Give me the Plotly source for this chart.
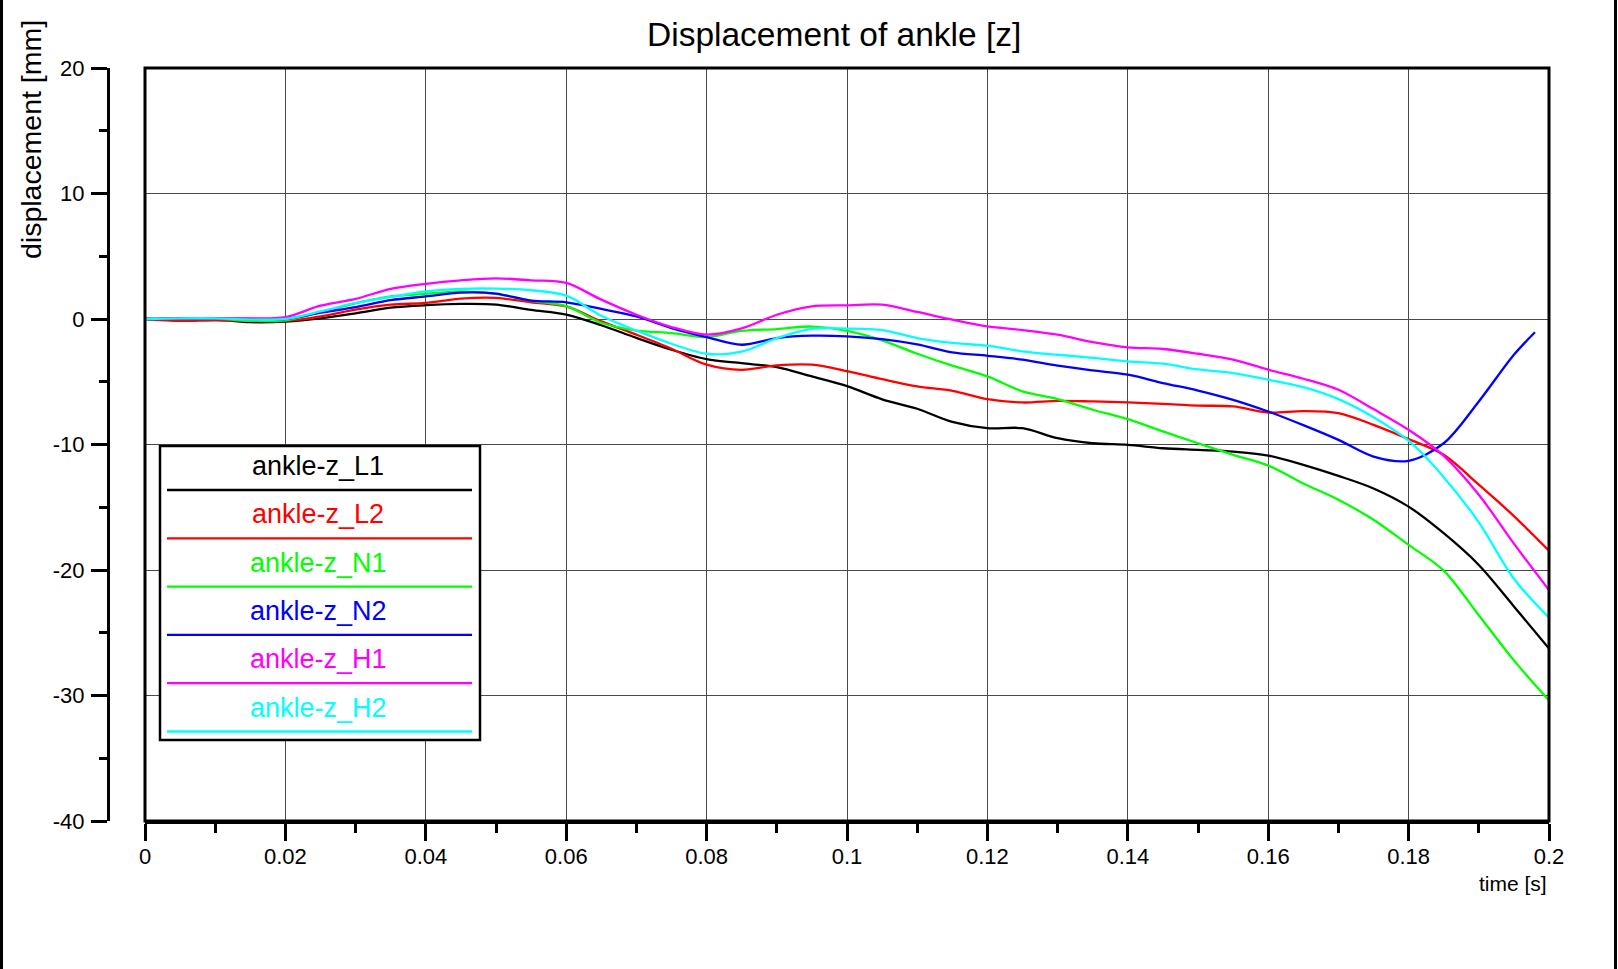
import plotly.graph_objects as go

W, H = 1618, 969
FONT = "Liberation Sans, Arial, Helvetica, sans-serif"

# ---------------- data ----------------
time_s = [0.0, 0.005, 0.01, 0.015, 0.02, 0.025, 0.03, 0.035, 0.04, 0.045,
          0.05, 0.055, 0.06, 0.065, 0.07, 0.075, 0.08, 0.085, 0.09, 0.095,
          0.1, 0.105, 0.11, 0.115, 0.12, 0.125, 0.13, 0.135, 0.14, 0.145,
          0.15, 0.155, 0.16, 0.165, 0.17, 0.175, 0.18, 0.185, 0.19, 0.195, 0.2]

time_s_N2 = [0.0, 0.005, 0.01, 0.015, 0.02, 0.025, 0.03, 0.035, 0.04, 0.045,
             0.05, 0.055, 0.06, 0.065, 0.07, 0.075, 0.08, 0.085, 0.09, 0.095,
             0.1, 0.105, 0.11, 0.115, 0.12, 0.125, 0.13, 0.135, 0.14, 0.145,
             0.15, 0.155, 0.16, 0.165, 0.17, 0.175, 0.18, 0.185, 0.19, 0.195, 0.198]

ankle_z_L1 = [0, -0.05, -0.05, -0.25, -0.2, 0.05, 0.45, 0.9, 1.1, 1.2,
              1.15, 0.72, 0.35, -0.5, -1.5, -2.45, -3.2, -3.52, -3.84, -4.58,
              -5.35, -6.4, -7.15, -8.2, -8.7, -8.7, -9.5, -9.9, -10.03, -10.3,
              -10.43, -10.56, -10.88, -11.62, -12.5, -13.5, -14.95, -17.07, -19.6, -22.9, -26.25]

ankle_z_L2 = [0, -0.15, -0.1, -0.15, -0.15, 0.2, 0.74, 1.14, 1.28, 1.62,
              1.68, 1.33, 1.0, -0.19, -1.25, -2.37, -3.64, -4.05, -3.7, -3.64,
              -4.15, -4.79, -5.37, -5.72, -6.38, -6.65, -6.52, -6.57, -6.65, -6.76,
              -6.9, -6.97, -7.45, -7.34, -7.5, -8.43, -9.57, -10.82, -13.2, -15.7, -18.46]

ankle_z_N1 = [0, 0.05, 0.05, -0.15, -0.1, 0.55, 1.25, 1.8, 2.0, 2.2,
              2.0, 1.45, 1.02, -0.3, -0.92, -1.12, -1.44, -0.95, -0.8, -0.6,
              -0.95, -1.7, -2.77, -3.72, -4.57, -5.77, -6.38, -7.23, -7.98, -8.96,
              -9.9, -10.82, -11.68, -13.1, -14.4, -16.0, -18.0, -20.05, -23.6, -27.2, -30.4]

ankle_z_N2 = [0, 0.05, 0.05, 0, 0, 0.5, 0.95, 1.5, 1.8, 2.1,
              2.02, 1.47, 1.33, 0.8, 0.21, -0.72, -1.44, -2.05, -1.52, -1.33,
              -1.38, -1.6, -2.02, -2.66, -2.93, -3.24, -3.72, -4.1, -4.44, -5.1,
              -5.7, -6.44, -7.37, -8.46, -9.63, -10.96, -11.3, -9.9, -6.57, -2.85, -1.06]

ankle_z_H1 = [0, 0.05, 0.05, 0.05, 0.15, 1.06, 1.6, 2.4, 2.8, 3.08,
              3.24, 3.08, 2.87, 1.54, 0.34, -0.64, -1.25, -0.75, 0.34, 1.01,
              1.09, 1.14, 0.56, -0.05, -0.59, -0.88, -1.25, -1.84, -2.26, -2.39,
              -2.77, -3.24, -4.04, -4.76, -5.64, -7.18, -8.83, -10.9, -14.0, -17.9, -21.6]

ankle_z_H2 = [0, 0.05, 0.05, -0.05, 0.0, 0.6, 1.28, 1.76, 2.2, 2.4,
              2.42, 2.29, 1.86, 0.26, -0.93, -1.97, -2.77, -2.6, -1.53, -0.79,
              -0.76, -0.88, -1.52, -1.91, -2.13, -2.58, -2.85, -3.09, -3.38, -3.56,
              -4.02, -4.31, -4.84, -5.43, -6.38, -7.82, -9.7, -12.6, -16.2, -20.7, -23.8]

series_names = ["ankle-z_L1", "ankle-z_L2", "ankle-z_N1", "ankle-z_N2", "ankle-z_H1", "ankle-z_H2"]
series_colors = ["#000000", "#ff0000", "#00ff00", "#0000ff", "#ff00ff", "#00ffff"]
series_x = [time_s, time_s, time_s, time_s_N2, time_s, time_s]
series_y = [ankle_z_L1, ankle_z_L2, ankle_z_N1, ankle_z_N2, ankle_z_H1, ankle_z_H2]

x_tick_vals = [0, 0.02, 0.04, 0.06, 0.08, 0.1, 0.12, 0.14, 0.16, 0.18, 0.2]
x_tick_labels = ["0", "0.02", "0.04", "0.06", "0.08", "0.1", "0.12", "0.14", "0.16", "0.18", "0.2"]
y_tick_vals = [20, 10, 0, -10, -20, -30, -40]
y_tick_labels = ["20", "10", "0", "-10", "-20", "-30", "-40"]

title_text = "Displacement of ankle [z]"
x_title = "time [s]"
y_title = "displacement [mm]"

# ---------------- geometry (pixels) ----------------
PL, PR, PT, PB = 145, 1549, 68, 821
YAX_X = 108


def px(x):
    return x / W


def py(y):
    return 1 - y / H


fig = go.Figure()
for name, color, xs, ys in zip(series_names, series_colors, series_x, series_y):
    fig.add_trace(go.Scatter(
        x=xs, y=ys, mode="lines", name=name, showlegend=False,
        line=dict(color=color, width=2.3, shape="spline", smoothing=0.9),
    ))

tick_common = dict(tickcolor="black", tickwidth=2.5)

fig.update_layout(
    width=W, height=H,
    margin=dict(l=0, r=0, t=0, b=0),
    paper_bgcolor="white", plot_bgcolor="white",
    font=dict(family=FONT, color="black"),
    showlegend=False,
    xaxis=dict(
        domain=[px(PL), px(PR)], range=[0, 0.2], anchor="y",
        tickmode="array", tickvals=x_tick_vals, ticktext=x_tick_labels,
        ticks="outside", ticklen=17, **tick_common,
        minor=dict(tickmode="linear", tick0=0, dtick=0.01, ticks="outside",
                   ticklen=9, showgrid=False, **tick_common),
        showline=True, linecolor="black", linewidth=3,
        showgrid=True, gridcolor="#4a4a4a", gridwidth=1, zeroline=False,
        tickfont=dict(size=22, color="black", family=FONT),
        ticklabelstandoff=-3, automargin=False,
    ),
    xaxis2=dict(
        overlaying="x", matches="x", anchor="y", range=[0, 0.2],
        tickmode="array", tickvals=x_tick_vals,
        ticks="inside", ticklen=16, **tick_common,
        minor=dict(tickmode="linear", tick0=0, dtick=0.01, ticks="inside",
                   ticklen=8, showgrid=False, **tick_common),
        showticklabels=False, showgrid=False, showline=False, zeroline=False,
        automargin=False,
    ),
    yaxis=dict(
        domain=[py(PB), py(PT)], range=[-40, 20], anchor="free", position=px(YAX_X),
        tickmode="array", tickvals=y_tick_vals, ticktext=y_tick_labels,
        ticks="outside", ticklen=16, **tick_common,
        minor=dict(tickmode="linear", tick0=0, dtick=5, ticks="outside",
                   ticklen=8, showgrid=False, **tick_common),
        showline=True, linecolor="black", linewidth=3,
        showgrid=True, gridcolor="#4a4a4a", gridwidth=1, zeroline=False,
        tickfont=dict(size=22, color="black", family=FONT),
        ticklabelstandoff=2, automargin=False,
    ),
    yaxis2=dict(
        overlaying="y", matches="y", anchor="free", position=px(YAX_X), range=[-40, 20],
        tickmode="array", tickvals=y_tick_vals,
        ticks="inside", ticklen=16, **tick_common,
        minor=dict(tickmode="linear", tick0=0, dtick=5, ticks="inside",
                   ticklen=8, showgrid=False, **tick_common),
        showticklabels=False, showgrid=False, showline=False, zeroline=False,
        automargin=False,
    ),
)

shapes = [
    # plot frame
    dict(type="rect", xref="x domain", yref="y domain", x0=0, x1=1, y0=0, y1=1,
         line=dict(color="black", width=3), layer="above"),
    # page side rules
    dict(type="line", xref="paper", yref="paper", x0=px(1.5), x1=px(1.5), y0=0, y1=1,
         line=dict(color="black", width=3)),
    dict(type="line", xref="paper", yref="paper", x0=px(1615.5), x1=px(1615.5), y0=0, y1=1,
         line=dict(color="black", width=3)),
    # legend box
    dict(type="rect", xref="paper", yref="paper", x0=px(160), x1=px(480), y0=py(740), y1=py(446),
         line=dict(color="black", width=2.5), fillcolor="white", layer="above"),
]

annotations = [
    dict(text=title_text, xref="paper", yref="paper", x=px(834), y=py(34),
         xanchor="center", yanchor="middle", showarrow=False,
         font=dict(size=33.5, color="black", family=FONT)),
    dict(text=x_title, xref="paper", yref="paper", x=px(1549), y=py(883),
         xanchor="right", yanchor="middle", showarrow=False,
         font=dict(size=21, color="black", family=FONT)),
    dict(text=y_title, xref="paper", yref="paper", x=px(31), y=py(140),
         xanchor="center", yanchor="middle", showarrow=False, textangle=-90,
         font=dict(size=28.5, color="black", family=FONT)),
]

ENTRY_H = 48.3
for i, (name, color) in enumerate(zip(series_names, series_colors)):
    ty = 466 + ENTRY_H * i
    ly = 490 + ENTRY_H * i
    annotations.append(dict(
        text=name, xref="paper", yref="paper", x=px(318), y=py(ty),
        xanchor="center", yanchor="middle", showarrow=False,
        font=dict(size=27, color=color, family=FONT)))
    shapes.append(dict(
        type="line", xref="paper", yref="paper", x0=px(167), x1=px(472), y0=py(ly), y1=py(ly),
        line=dict(color=color, width=2.3), layer="above"))

fig.update_layout(shapes=shapes, annotations=annotations)

fig.write_html("out.html")
